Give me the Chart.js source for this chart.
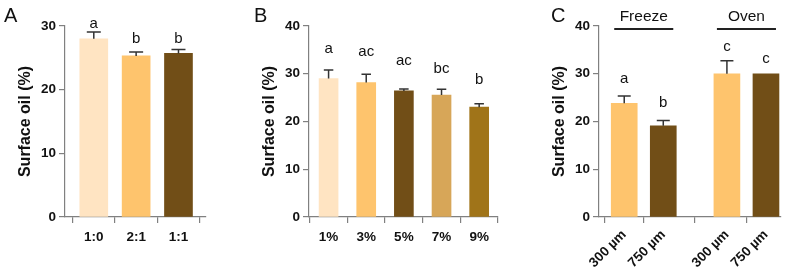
<!DOCTYPE html>
<html>
<head>
<meta charset="utf-8">
<script src="https://cdn.jsdelivr.net/npm/chart.js@4.4.1/dist/chart.umd.min.js"></script>
<style>
  html, body { margin: 0; padding: 0; background: #fff; }
  #wrap { position: relative; width: 794px; height: 277px; overflow: hidden; }
  .panel { position: absolute; top: 0; height: 277px; }
</style>
</head>
<body>
<div id="wrap">
  <div class="panel" style="left:0;width:215px"><canvas id="chartA"></canvas></div>
  <div class="panel" style="left:215px;width:290px"><canvas id="chartB"></canvas></div>
  <div class="panel" style="left:505px;width:289px"><canvas id="chartC"></canvas></div>
</div>
<script>
// ---- data ----------------------------------------------------------------
// A: oil ratio
const ratioLabels = ['1:0', '2:1', '1:1'];
const ratioMean = [28.0, 25.3, 25.7];
const ratioSd = [1.05, 0.6, 0.6];
const ratioLetters = ['a', 'b', 'b'];
const ratioLetterAt = [29.7, 27.3, 27.3];

// B: concentration
const concLabels = ['1%', '3%', '5%', '7%', '9%'];
const concMean = [29.0, 28.15, 26.4, 25.55, 23.0];
const concSd = [1.8, 1.75, 0.4, 1.2, 0.7];
const concLetters = ['a', 'ac', 'ac', 'bc', 'b'];
const concLetterAt = [34.25, 33.8, 31.9, 30.2, 27.9];

// C: drying method x particle size
const dryGroups = ['Freeze', 'Oven'];
const sizeLabels = ['300 µm', '750 µm'];
const dryMean = [23.8, 19.1, 30.0, 30.0];
const drySd = [1.55, 1.1, 2.7, 0];
const dryLetters = ['a', 'b', 'c', 'c'];
const dryLetterAt = [28.1, 23.0, 34.7, 32.3];

// ---- style ----------------------------------------------------------------
const FONT = '"Liberation Sans", Arial, Helvetica, sans-serif';
const AXIS = '#808080';
const INK = '#111';
const PEACH = '#FFE4C2', ORANGE = '#FEC46D', BROWN = '#714E17', TAN = '#D7A658', OCHRE = '#A07419';
const GROUP_GAP = 0.63;   // extra slot space between Freeze and Oven

// error bars, letters, panel tag and group headers
const annotate = {
  id: 'annotate',
  afterDatasetsDraw(chart, args, o) {
    const ctx = chart.ctx;
    const y = chart.scales.y;
    const els = chart.getDatasetMeta(0).data;
    ctx.save();
    ctx.strokeStyle = '#333';
    ctx.lineWidth = 1.5;
    els.forEach((el, i) => {
      if (!o.sd[i]) return;
      const top = y.getPixelForValue(o.mean[i] + o.sd[i]);
      const half = o.bar / 4;
      ctx.beginPath();
      ctx.moveTo(el.x, el.y);
      ctx.lineTo(el.x, top);
      ctx.moveTo(el.x - half, top);
      ctx.lineTo(el.x + half, top);
      ctx.stroke();
    });
    ctx.fillStyle = INK;
    ctx.font = '15px ' + FONT;
    ctx.textAlign = 'center';
    ctx.textBaseline = 'alphabetic';
    els.forEach((el, i) => ctx.fillText(o.letters[i], el.x, y.getPixelForValue(o.letterAt[i])));

    ctx.font = '20px ' + FONT;
    ctx.textAlign = 'left';
    ctx.fillText(o.tag, o.tagX, 22);

    if (o.groups) {
      const per = els.length / o.groups.length;
      ctx.font = '15.5px ' + FONT;
      ctx.textAlign = 'center';
      ctx.strokeStyle = '#222';
      ctx.lineWidth = 1.8;
      o.groups.forEach((g, gi) => {
        const x0 = els[gi * per].x, x1 = els[gi * per + per - 1].x;
        ctx.fillText(g, (x0 + x1) / 2, 21);
        ctx.beginPath();
        ctx.moveTo(x0 - 10, 29);
        ctx.lineTo(x1 + 10, 29);
        ctx.stroke();
      });
    }
    ctx.restore();
  }
};

function panel(id, p) {
  const points = p.mean.map((v, i) => ({ x: p.xs[i], y: v }));
  const tickFont = { family: FONT, size: 13.5, weight: 'bold' };
  return new Chart(document.getElementById(id), {
    type: 'bar',
    data: {
      datasets: [{
        data: points, backgroundColor: p.colors, borderWidth: 0, barThickness: p.bar,
      }]
    },
    plugins: [annotate],
    options: {
      responsive: true, maintainAspectRatio: false, animation: false,
      devicePixelRatio: 1,
      layout: { padding: { top: 26, left: 0, right: p.padRight, bottom: 0 } },
      plugins: {
        legend: { display: false }, tooltip: { enabled: false },
        annotate: { mean: p.mean, sd: p.sd, letters: p.letters, letterAt: p.letterAt,
                    bar: p.bar, tag: p.tag, tagX: p.tagX, groups: p.groups },
      },
      scales: {
        x: {
          type: 'linear', offset: false, min: p.xMin, max: p.xMax,
          afterBuildTicks: (s) => { s.ticks = p.xs.map(v => ({ value: v })); },
          afterFit: (s) => { s.height = 60; },
          grid: { display: true, drawOnChartArea: false, drawTicks: true, tickLength: 6, color: AXIS, lineWidth: 1.2 },
          border: { display: true, color: AXIS, width: 1.2 },
          ticks: {
            autoSkip: false, color: INK, font: tickFont, padding: p.rotate ? 4 : 6,
            minRotation: p.rotate || 0, maxRotation: p.rotate || 0,
            callback: (v, i) => p.labels[i],
          },
        },
        y: {
          min: 0, max: p.yMax,
          afterFit: (s) => { s.width = p.yWidth; },
          grid: { display: true, drawOnChartArea: false, drawTicks: true, tickLength: 6, color: AXIS, lineWidth: 1.2 },
          border: { display: true, color: AXIS, width: 1.2 },
          ticks: { stepSize: 10, color: INK, font: tickFont, padding: 3 },
          title: {
            display: true, text: 'Surface oil (%)', color: INK,
            font: { family: FONT, size: 16, weight: 'bold' },
            padding: { top: p.titlePad, bottom: 0 },
          },
        },
      },
    },
  });
}

panel('chartA', {
  labels: ratioLabels, mean: ratioMean, sd: ratioSd, letters: ratioLetters, letterAt: ratioLetterAt,
  colors: [PEACH, ORANGE, BROWN], xs: ratioLabels.map((_, i) => i),
  xMin: -0.68, xMax: 2.65, yMax: 30, bar: 28, yWidth: 65, titlePad: 15.5, padRight: 9,
  tag: 'A', tagX: 4,
});

panel('chartB', {
  labels: concLabels, mean: concMean, sd: concSd, letters: concLetters, letterAt: concLetterAt,
  colors: [PEACH, ORANGE, BROWN, TAN, OCHRE], xs: concLabels.map((_, i) => i),
  xMin: -0.52, xMax: 4.5, yMax: 40, bar: 19, yWidth: 94, titlePad: 44.6, padRight: 7,
  tag: 'B', tagX: 39,
});

const dryLabels = [], dryXs = [];
dryGroups.forEach((g, gi) => sizeLabels.forEach((s, si) => {
  dryLabels.push(s);
  dryXs.push(gi * (sizeLabels.length + GROUP_GAP) + si);
}));

panel('chartC', {
  labels: dryLabels, mean: dryMean, sd: drySd, letters: dryLetters, letterAt: dryLetterAt,
  colors: [ORANGE, BROWN, ORANGE, BROWN], xs: dryXs,
  xMin: -0.646, xMax: 4.015, yMax: 40, bar: 26, yWidth: 94, titlePad: 45.4, padRight: 13,
  tag: 'C', tagX: 46, groups: dryGroups, rotate: 45,
});
</script>
</body>
</html>
